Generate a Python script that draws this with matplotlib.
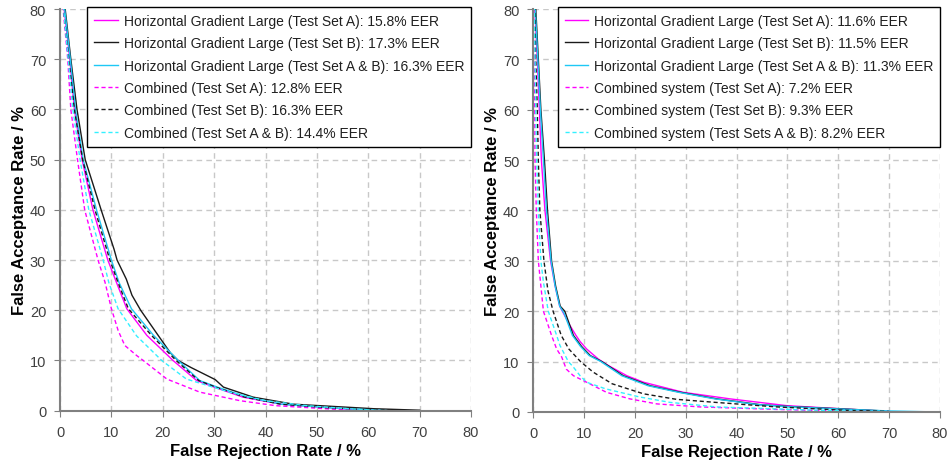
"""DET curves: horizontal gradient vs combined system on two test sets."""

import matplotlib
matplotlib.use("Agg")
import matplotlib.pyplot as plt

plt.rcParams["font.family"] = ["Liberation Sans", "DejaVu Sans"]

# ---- left panel: (FRR %, FAR %) points ----
left_labels = [
    "Horizontal Gradient Large (Test Set A): 15.8% EER",
    "Horizontal Gradient Large (Test Set B): 17.3% EER",
    "Horizontal Gradient Large (Test Set A & B): 16.3% EER",
    "Combined (Test Set A): 12.8% EER",
    "Combined (Test Set B): 16.3% EER",
    "Combined (Test Set A & B): 14.4% EER",
]
left_hgl_a_frr = [0, 0.8, 1.9, 2.8, 4.3, 6.4, 9.3, 11.0, 13.0, 16.9, 22.0, 26.6, 30.0, 35.6, 43.0, 51.0, 56.0, 62.0]
left_hgl_a_far = [100, 80, 70, 60, 50, 40, 30, 25.5, 20.3, 15, 10, 6, 4.7, 2.7, 1.3, 0.7, 0.3, 0.05]
left_hgl_b_frr = [0, 1.0, 2.1, 3.3, 4.9, 8.0, 10.5, 11.1, 12.9, 14.0, 15.7, 19.1, 21.5, 23.0, 25.5, 30.2, 31.8, 37.6, 45.4, 50.6, 61.0, 70.0]
left_hgl_b_far = [100, 80, 70, 60, 50, 40, 32.2, 30, 26.2, 23, 20, 15, 11.5, 10, 8.6, 6.2, 4.7, 2.7, 1.3, 1.0, 0.4, 0.1]
left_hgl_ab_frr = [0, 0.9, 2.0, 3.0, 4.5, 7.1, 10.0, 11.5, 13.9, 18.2, 23.0, 27.2, 30.6, 36.5, 43.0, 52.0, 64.0]
left_hgl_ab_far = [100, 80, 70, 60, 50, 40, 30, 25.5, 20.3, 15, 10, 6, 4.7, 2.7, 1.3, 0.6, 0]
left_comb_a_frr = [0, 0.6, 1.5, 2.1, 3.4, 4.8, 7.4, 8.75, 10.0, 11.3, 12.6, 14.9, 16.2, 20.8, 27.2, 35.0, 42.0, 50.0, 58.0]
left_comb_a_far = [100, 80, 70, 60, 50, 40, 30, 25.6, 20.3, 16, 13, 11, 10, 6.3, 3.7, 2.0, 1.0, 0.5, 0]
left_comb_b_frr = [0, 0.7, 1.7, 2.8, 4.4, 6.8, 9.7, 11.3, 13.3, 17.8, 22.6, 27.0, 30.3, 36.0, 43.0, 52.0, 60.0, 68.0]
left_comb_b_far = [100, 80, 70, 60, 50, 40, 30, 25.5, 20.3, 15, 10, 6, 4.7, 2.7, 1.3, 0.6, 0.2, 0]
left_comb_ab_frr = [0, 0.7, 1.6, 2.5, 3.9, 5.6, 8.4, 9.5, 11.3, 14.9, 19.8, 24.6, 33.0, 40.0, 48.0, 56.0, 63.0]
left_comb_ab_far = [100, 80, 70, 60, 50, 40, 30, 25.5, 20.3, 14.9, 10, 6.3, 3.7, 2.0, 1.0, 0.4, 0]

# ---- right panel ----
right_labels = [
    "Horizontal Gradient Large (Test Set A): 11.6% EER",
    "Horizontal Gradient Large (Test Set B): 11.5% EER",
    "Horizontal Gradient Large (Test Set A & B): 11.3% EER",
    "Combined system (Test Set A): 7.2% EER",
    "Combined system (Test Set B): 9.3% EER",
    "Combined system (Test Sets A & B): 8.2% EER",
]
right_hgl_a_frr = [0, 0.3, 0.8, 1.2, 1.6, 2.3, 3.4, 4.3, 5.2, 7.2, 8.4, 9.2, 10.5, 12.8, 14.8, 18.4, 21.7, 29.5, 38.7, 49.9, 61.0, 70.0]
right_hgl_a_far = [100, 80, 70, 60, 50, 40, 30, 25, 21, 17.2, 15.2, 14, 12.5, 10.5, 9.2, 7.2, 5.9, 3.9, 2.6, 1.25, 0.6, 0.1]
right_hgl_b_frr = [0, 0.5, 1.0, 1.5, 2.2, 2.8, 3.6, 4.4, 5.3, 6.2, 7.9, 9.5, 11.2, 13.5, 17.7, 23.0, 29.0, 36.1, 44.6, 50.0, 61.0, 69.0]
right_hgl_b_far = [100, 80, 70, 60, 50, 40, 30, 25, 21, 20, 15.2, 13, 11.2, 10, 7.2, 5.2, 3.9, 2.6, 1.45, 1.1, 0.6, 0.2]
right_hgl_ab_frr = [0, 0.4, 0.9, 1.4, 2.0, 2.6, 3.5, 4.3, 5.2, 6.1, 7.7, 9.3, 11.0, 13.3, 17.4, 22.6, 28.6, 35.7, 44.2, 50.0, 61.0, 70.0, 79.4]
right_hgl_ab_far = [100, 80, 70, 60, 50, 40, 30, 25, 21, 19.5, 15.2, 13, 11.2, 10, 7.2, 5.2, 3.9, 2.6, 1.45, 1.05, 0.55, 0.2, 0]
right_comb_a_frr = [0, 0.1, 0.2, 0.3, 0.35, 0.6, 1.0, 1.5, 2.0, 3.6, 4.6, 5.6, 6.5, 7.9, 10.5, 14.4, 19.0, 24.3, 32.8, 47.9, 60.0, 70.0]
right_comb_a_far = [100, 80, 70, 60, 50, 40, 30, 25, 20, 15.2, 12.5, 10.9, 8.5, 7.2, 5.9, 3.9, 2.6, 1.6, 1.0, 0.5, 0.2, 0]
right_comb_b_frr = [0, 0.3, 0.5, 0.8, 1.0, 1.3, 2.1, 2.9, 3.9, 5.5, 7.0, 9.3, 11.8, 15.5, 21.7, 28.2, 35.9, 47.9, 61.0, 70.0]
right_comb_b_far = [100, 80, 70, 60, 50, 40, 30, 24, 20, 15.2, 12.5, 10, 7.9, 5.6, 3.6, 2.5, 1.9, 1.0, 0.35, 0.1]
right_comb_ab_frr = [0, 0.2, 0.35, 0.5, 0.67, 1.0, 1.5, 2.0, 2.95, 4.6, 5.25, 6.9, 7.9, 9.2, 10.5, 14.2, 20.8, 26.9, 36.1, 54.0, 68.0]
right_comb_ab_far = [100, 80, 70, 60, 50, 40, 30, 25.8, 20, 15.2, 13.2, 10, 8.9, 7.2, 5.9, 4.6, 3.0, 1.9, 1.0, 0.4, 0.05]

left_series = [
    (left_hgl_a_frr, left_hgl_a_far),
    (left_hgl_b_frr, left_hgl_b_far),
    (left_hgl_ab_frr, left_hgl_ab_far),
    (left_comb_a_frr, left_comb_a_far),
    (left_comb_b_frr, left_comb_b_far),
    (left_comb_ab_frr, left_comb_ab_far),
]
right_series = [
    (right_hgl_a_frr, right_hgl_a_far),
    (right_hgl_b_frr, right_hgl_b_far),
    (right_hgl_ab_frr, right_hgl_ab_far),
    (right_comb_a_frr, right_comb_a_far),
    (right_comb_b_frr, right_comb_b_far),
    (right_comb_ab_frr, right_comb_ab_far),
]

colors = ["#ff00ff", "#1a1a1a", "#1ec8f5", "#ff00ff", "#1a1a1a", "#33f0ff"]
styles = ["-", "-", "-", (0, (3, 2)), (0, (3, 2)), (0, (3, 2))]
ticks = [0, 10, 20, 30, 40, 50, 60, 70, 80]


def draw_panel(axis, series, labels):
    for (frr, far), label, color, style in zip(series, labels, colors, styles):
        axis.plot(frr, far, color=color, linestyle=style, linewidth=1.0, label=label)
    axis.set_xlim(0, 80)
    axis.set_ylim(0, 80)
    axis.set_xticks(ticks)
    axis.set_yticks(ticks)
    axis.grid(color="#c8c8c8", linestyle=(0, (4, 3)), linewidth=1.0)
    axis.set_axisbelow(True)
    for side in ("top", "right"):
        axis.spines[side].set_visible(False)
    for side in ("left", "bottom"):
        axis.spines[side].set_color("#808080")
        axis.spines[side].set_linewidth(1.5)
    axis.tick_params(direction="out", length=4, color="#808080",
                     labelcolor="#404040", labelsize=10.5, pad=6)
    axis.set_xlabel("False Rejection Rate / %", fontsize=12, fontweight="bold", labelpad=3)
    axis.set_ylabel("False Acceptance Rate / %", fontsize=12, fontweight="bold", labelpad=2)
    legend = axis.legend(loc="upper right", bbox_to_anchor=(1.0, 1.005),
                         borderaxespad=0, fontsize=10, fancybox=False,
                         framealpha=1, edgecolor="#000000", labelspacing=0.6,
                         handlelength=1.7, handletextpad=0.4, borderpad=0.5)
    legend.get_frame().set_linewidth(1.0)
    for text in legend.get_texts():
        text.set_color("#202020")


figure = plt.figure(figsize=(9.47, 4.64), dpi=100)
left_axis = figure.add_axes([0.0634, 0.1127, 0.434, 0.8657])
right_axis = figure.add_axes([0.5631, 0.1100, 0.4295, 0.8684])
draw_panel(left_axis, left_series, left_labels)
draw_panel(right_axis, right_series, right_labels)
figure.savefig("out.png", dpi=100)
plt.close(figure)
